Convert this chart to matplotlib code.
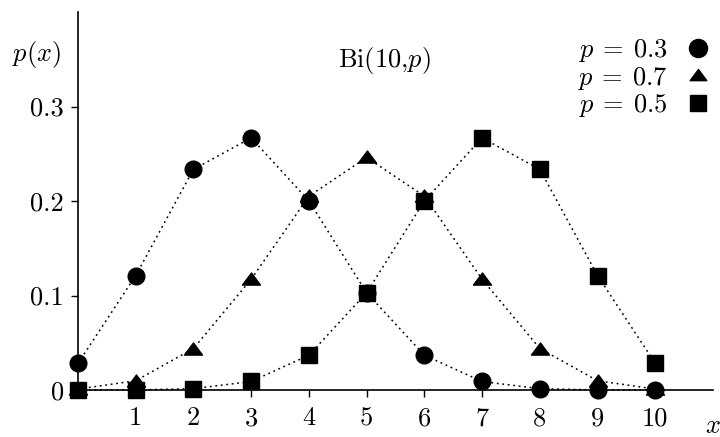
import numpy as np
import matplotlib
matplotlib.use("Agg")
import matplotlib.pyplot as plt
from matplotlib.lines import Line2D
from matplotlib.path import Path

plt.rcParams["font.family"] = "serif"
plt.rcParams["font.serif"] = ["cmr10"]
plt.rcParams["mathtext.fontset"] = "cm"
plt.rcParams["axes.formatter.use_mathtext"] = True

x = list(range(11))
p03 = [0.0282, 0.1211, 0.2335, 0.2668, 0.2001, 0.1029, 0.0368, 0.0090, 0.0014, 0.0001, 0.0000]
p05 = [0.0010, 0.0098, 0.0439, 0.1172, 0.2051, 0.2461, 0.2051, 0.1172, 0.0439, 0.0098, 0.0010]
p07 = [0.0000, 0.0001, 0.0014, 0.0090, 0.0368, 0.1029, 0.2001, 0.2668, 0.2335, 0.1211, 0.0282]
labels = [r"$p\:=\:0.3$", r"$p\:=\:0.7$", r"$p\:=\:0.5$"]
yticks = [0, 0.1, 0.2, 0.3]
yticklabels = ["0", "0.1", "0.2", "0.3"]
xticks = list(range(1, 11))

# flat triangle, wider than tall
tri = Path([(-1, -0.62), (1, -0.62), (0, 0.72), (-1, -0.62)],
           [Path.MOVETO, Path.LINETO, Path.LINETO, Path.CLOSEPOLY])

FS = 19
fig = plt.figure(figsize=(7.2, 4.37), dpi=100)
ax = fig.add_axes([78 / 720, 47 / 437, 635 / 720, 378 / 437])

dash = dict(linestyle=(0, (1.2, 2.4)), linewidth=1.1, color="black", clip_on=False)
ax.plot(x, p03, marker="o", markersize=12, **dash)
ax.plot(x, p05, marker=tri, markersize=13, **dash)
ax.plot(x, p07, marker="s", markersize=12, **dash)

ax.set_xlim(0, 11)
ax.set_ylim(0, 0.4)
for s in ["top", "right"]:
    ax.spines[s].set_visible(False)
for s in ["left", "bottom"]:
    ax.spines[s].set_linewidth(1.2)

ax.set_xticks(xticks)
ax.set_xticklabels([str(t) for t in xticks], fontsize=FS)
ax.set_yticks(yticks)
ax.set_yticklabels(yticklabels, fontsize=FS)
ax.tick_params(axis="x", direction="out", length=5, width=1, pad=7)
ax.tick_params(axis="y", direction="out", length=5, width=1, pad=5)

fig.text(37 / 720, 1 - 55 / 437, "$p(x)$", ha="center", va="center", fontsize=FS)
fig.text(384 / 720, 1 - 61 / 437, "Bi(10,$p$)", ha="center", va="center", fontsize=FS)
fig.text(705 / 720, 4 / 437, "$x$", ha="left", va="baseline", fontsize=FS)

handles = [
    Line2D([], [], marker="o", markersize=13, linestyle="none", color="black"),
    Line2D([], [], marker=tri, markersize=12, linestyle="none", color="black"),
    Line2D([], [], marker="s", markersize=12, linestyle="none", color="black"),
]
ax.legend(handles, labels, loc="upper right", bbox_to_anchor=(710 / 720, 1 - 37 / 437),
          bbox_transform=fig.transFigure, frameon=False, markerfirst=False,
          fontsize=FS, handlelength=0.9, handletextpad=0.7, labelspacing=0.02,
          borderpad=0, borderaxespad=0)

fig.savefig("out.png", dpi=100)
